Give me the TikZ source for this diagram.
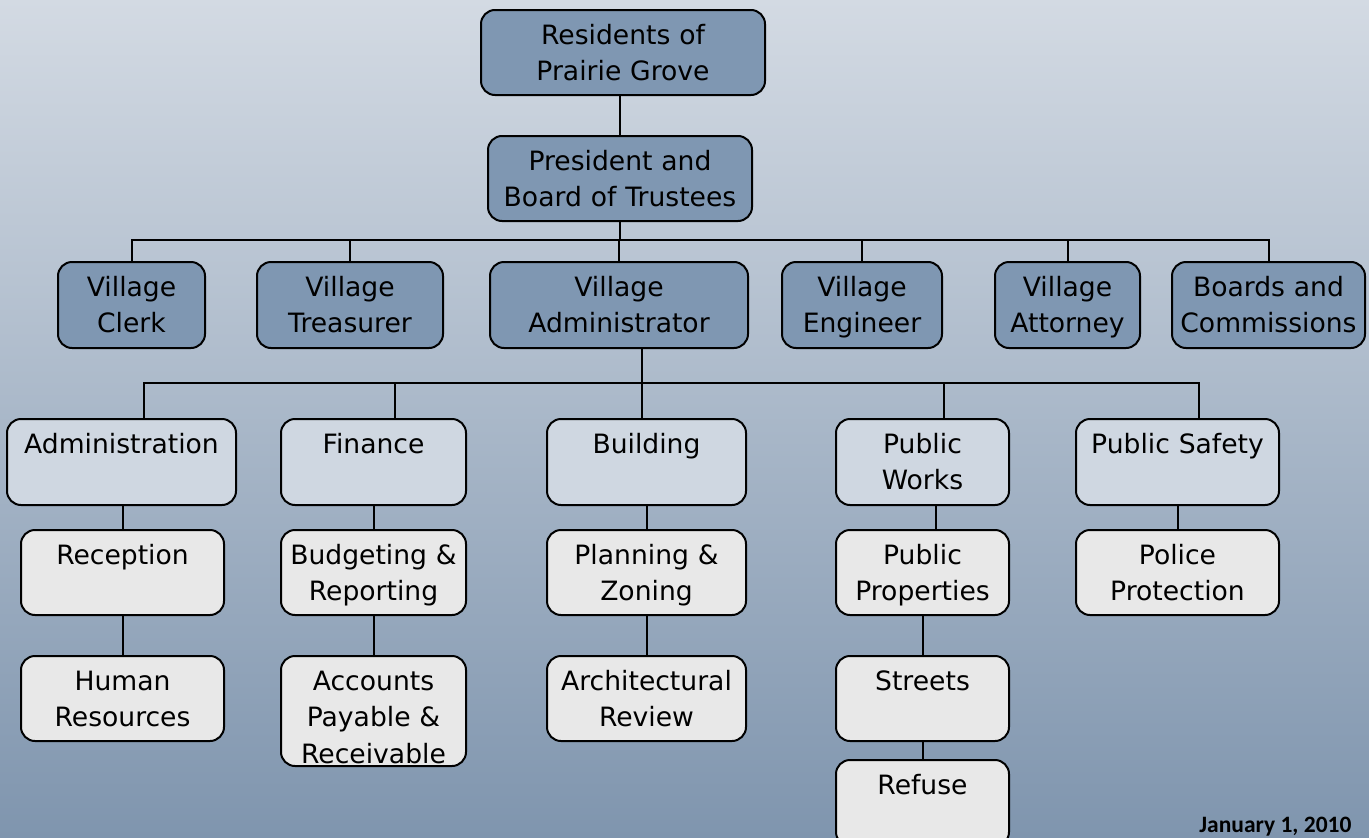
\documentclass[tikz,border=0pt]{standalone}
\usepackage{fontspec}
\setmainfont{DejaVu Sans}
\newfontfamily\datefont{Carlito}
\usetikzlibrary{calc}
\definecolor{bgtop}{HTML}{D3DAE3}
\definecolor{bgbottom}{HTML}{7F95AE}
\definecolor{topfill}{HTML}{7F97B2}
\definecolor{deptfill}{HTML}{CFD7E1}
\definecolor{subfill}{HTML}{E8E8E8}
\begin{document}
\begin{tikzpicture}[x=1pt,y=1pt,yscale=-1,xscale=1,
  unit/.style={draw=black, line width=2pt, rounded corners=14pt, align=center, inner sep=0pt, text height=34pt, anchor=north, font=\fontsize{26.6}{36.5}\selectfont},
  topunit/.style={unit, fill=topfill},
  deptunit/.style={unit, fill=deptfill},
  subunit/.style={unit, fill=subfill},
  link/.style={line width=2pt, black}]
%set diagram left start at 0, and has height of 838
\useasboundingbox (0,0) rectangle (1369,838);

%Background
\shade[top color=bgtop, bottom color=bgbottom] (0,0) rectangle (1369,838);

%Shape: Top level
\node[topunit, text width=284pt, text depth=51pt] (res) at (623,9) {Residents of\\Prairie Grove};
\node[topunit, text width=264pt, text depth=51pt] (pres) at (620,135) {President and\\Board of Trustees};

%Shape: Village officers
\node[topunit, text width=147pt, text depth=52pt] (clerk) at (131.5,261) {Village\\Clerk};
\node[topunit, text width=186pt, text depth=52pt] (treas) at (350,261) {Village\\Treasurer};
\node[topunit, text width=258pt, text depth=52pt] (vadm) at (619,261) {Village\\Administrator};
\node[topunit, text width=160pt, text depth=52pt] (eng) at (862,261) {Village\\Engineer};
\node[topunit, text width=145pt, text depth=52pt] (att) at (1067.5,261) {Village\\Attorney};
\node[topunit, text width=193pt, text depth=52pt] (boards) at (1268.5,261) {Boards and\\Commissions};

%Shape: Departments
\node[deptunit, text width=229pt, text depth=52pt] (admin) at (121.5,418) {Administration};
\node[deptunit, text width=185pt, text depth=52pt] (fin) at (373.5,418) {Finance};
\node[deptunit, text width=199pt, text depth=52pt] (bld) at (646.5,418) {Building};
\node[deptunit, text width=173pt, text depth=52pt] (pw) at (922.5,418) {Public\\Works};
\node[deptunit, text width=203pt, text depth=52pt] (ps) at (1177.5,418) {Public Safety};

%Shape: Divisions
\node[subunit, text width=203pt, text depth=51pt] (recep) at (122.5,529) {Reception};
\node[subunit, text width=203pt, text depth=51pt] (hr) at (122.5,655) {Human\\Resources};
\node[subunit, text width=185pt, text depth=51pt] (budg) at (373.5,529) {Budgeting \&\\Reporting};
\node[subunit, text width=185pt, text depth=76pt] (acct) at (373.5,655) {Accounts\\Payable \&\\Receivable};
\node[subunit, text width=199pt, text depth=51pt] (plan) at (646.5,529) {Planning \&\\Zoning};
\node[subunit, text width=199pt, text depth=51pt] (arch) at (646.5,655) {Architectural\\Review};
\node[subunit, text width=173pt, text depth=51pt] (pprop) at (922.5,529) {Public\\Properties};
\node[subunit, text width=173pt, text depth=51pt] (streets) at (922.5,655) {Streets};
\node[subunit, text width=173pt, text depth=52pt] (refuse) at (922.5,759) {Refuse};
\node[subunit, text width=203pt, text depth=51pt] (police) at (1177.5,529) {Police\\Protection};

%Straight Lines: bus junctions
\coordinate (busA) at (620,240);
\coordinate (busB) at (642,383);
\coordinate (jadmin) at (144,383);
\coordinate (jfin) at (395,383);
\coordinate (jpw) at (944,383);
\coordinate (jps) at (1199,383);
\coordinate (jpprop) at (936,529);

%Straight Lines
\draw[link] (pres.north) -- (pres.north |- res.south);
\draw[link] (pres.south) -- (busA);
\draw[link] (clerk.north) |- (busA) -| (boards.north);
\draw[link] (treas.north) -- (treas.north |- busA);
\draw[link] (vadm.north) -- (vadm.north |- busA);
\draw[link] (eng.north) -- (eng.north |- busA);
\draw[link] (att.north) -- (att.north |- busA);

\draw[link] (busB |- vadm.south) -- (busB |- bld.north);
\draw[link] (jadmin |- admin.north) -- (jadmin) -- (jps) -- (jps |- ps.north);
\draw[link] (jfin) -- (jfin |- fin.north);
\draw[link] (jpw) -- (jpw |- pw.north);

\draw[link] (recep.north |- admin.south) -- (recep.north);
\draw[link] (recep.south) -- (hr.north);
\draw[link] (fin.south) -- (budg.north);
\draw[link] (budg.south) -- (acct.north);
\draw[link] (bld.south) -- (plan.north);
\draw[link] (plan.south) -- (arch.north);
\draw[link] (jpprop |- pw.south) -- (jpprop);
\draw[link] (pprop.south) -- (streets.north);
\draw[link] (streets.south) -- (refuse.north);
\draw[link] (ps.south) -- (police.north);

% Text Node
\node[anchor=base east, font=\datefont\bfseries\fontsize{23.5}{28}\selectfont] (date) at (1355,832) {January 1, 2010};

\end{tikzpicture}
\end{document}
